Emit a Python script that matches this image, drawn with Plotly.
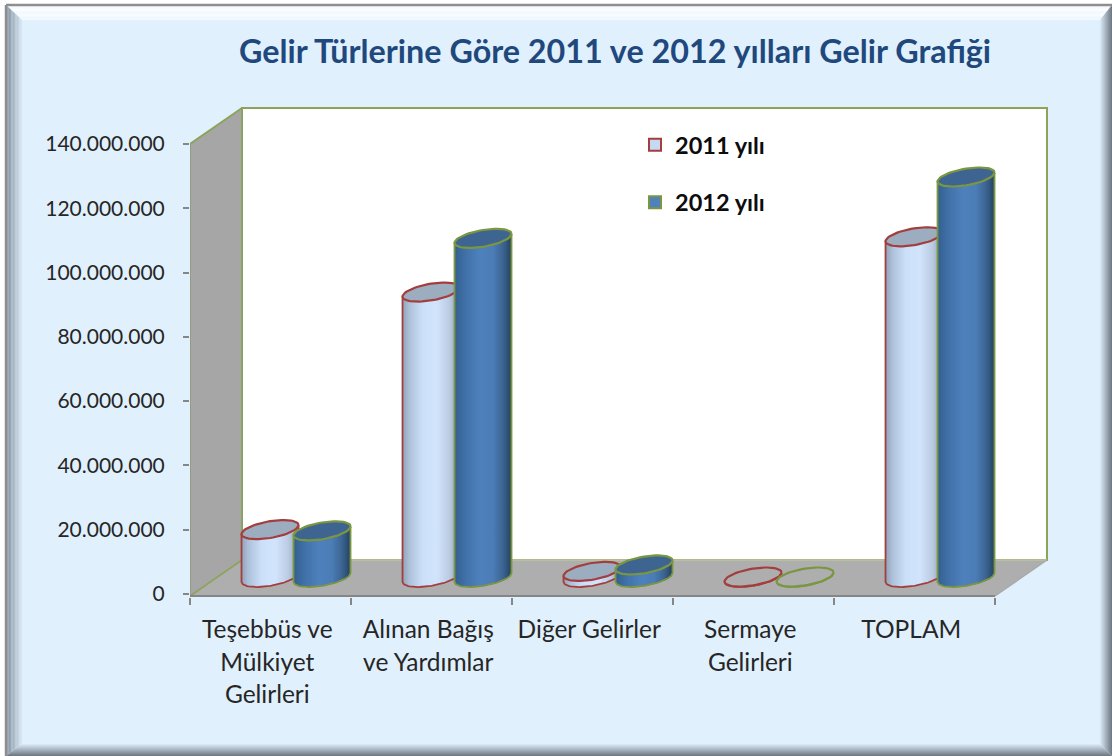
import math
import plotly.graph_objects as go

# ---------- data ----------
categories = ["Teşebbüs ve<br>Mülkiyet<br>Gelirleri", "Alınan Bağış<br>ve Yardımlar",
              "Diğer Gelirler", "Sermaye<br>Gelirleri", "TOPLAM"]
values_2011 = [14900000, 88800000, 1900000, 150000, 106000000]
values_2012 = [14500000, 105500000, 3900000, 150000, 124600000]
y_tick_values = [0, 20000000, 40000000, 60000000, 80000000, 100000000, 120000000, 140000000]
y_tick_labels = ["0", "20.000.000", "40.000.000", "60.000.000", "80.000.000",
                 "100.000.000", "120.000.000", "140.000.000"]
series_names = ["2011 yılı", "2012 yılı"]
title_text = "Gelir Türlerine Göre 2011 ve 2012 yılları Gelir Grafiği"

# ---------- geometry / style ----------
W, H = 1112, 756
L, R, T, B = 190, 1052, 105, 597       # plot area in pixels
CAT_PX = 161.0
PX_PER_VAL = 450 / 140e6
VAL_PER_PX = 1 / PX_PER_VAL
X_RANGE = [0, (R - L) / CAT_PX]
Y_RANGE = [(594 - B) * VAL_PER_PX, (594 - T) * VAL_PER_PX]

DX = 52 / CAT_PX           # depth of the 3-D box
DY = 36 * VAL_PER_PX
BASE = 16.5 * VAL_PER_PX   # floor position of the cylinders
CENTERS = [0.497, 0.820]
EA, EB, ES = 28.5 / CAT_PX, 8.4 * VAL_PER_PX, 4.5 * VAL_PER_PX

RED, GREEN = "#A23F3E", "#7A9640"
GRAD_2011 = [(-1, "#8FA2BA"), (-.75, "#B0C2DB"), (-.3, "#CCE0F9"), (.2, "#D2E5FD"), (.65, "#BACBE2"), (1, "#8A9BB2")]
GRAD_2012 = [(-1, "#34608F"), (-.6, "#4272A9"), (-.1, "#4F81BD"), (.35, "#4C7DB7"), (.7, "#3D6593"), (1, "#254360")]
FONT = "Lato, Carlito, 'Open Sans', sans-serif"


def hex2rgb(c):
    return tuple(int(c[i:i + 2], 16) for i in (1, 3, 5))


def ramp(stops, u):
    for (u0, c0), (u1, c1) in zip(stops, stops[1:]):
        if u <= u1:
            f = (u - u0) / (u1 - u0)
            a, b = hex2rgb(c0), hex2rgb(c1)
            return "rgb(%d,%d,%d)" % tuple(a[i] + (b[i] - a[i]) * f for i in range(3))
    return stops[-1][1]


def front_y(u):
    """Vertical offset of the front half of the tilted ellipse, at u in [-1, 1]."""
    return ES * u - EB * math.sqrt(max(0, 1 - u * u))


def ellipse(cx, cy, n=60):
    xs, ys = [], []
    for i in range(n + 1):
        t = 2 * math.pi * i / n
        xs.append(cx + EA * math.cos(t))
        ys.append(cy + ES * math.cos(t) + EB * math.sin(t))
    return xs, ys


fig = go.Figure()

# legend + base: real bars from the data, the shaded cylinder surface is laid over them
for name, vals, off, fill, edge in [(series_names[0], values_2011, CENTERS[0], "#C6D9F1", RED),
                                    (series_names[1], values_2012, CENTERS[1], "#4F81BD", GREEN)]:
    fig.add_trace(go.Bar(
        x=[i + off for i in range(len(vals))], y=vals, base=BASE, width=0.2, name=name,
        legendgroup=name, showlegend=True, hoverinfo="skip",
        marker=dict(color=[fill if v > 1e6 else "rgba(0,0,0,0)" for v in vals],
                    line=dict(color=edge, width=[2.5] + [0] * (len(vals) - 1)))))

NSTRIP = 32
for vals, off, grad, edge, cap in [(values_2011, CENTERS[0], GRAD_2011, RED, "#9DADC0"),
                                   (values_2012, CENTERS[1], GRAD_2012, GREEN, "#3E6592")]:
    # shaded strips: each one runs on to the right edge and the next is painted over it
    for s in range(NSTRIP):
        u0 = -1 + 2 * s / NSTRIP
        col = ramp(grad, u0 + 1 / NSTRIP)
        xs, ys = [], []
        us = [u0 + (1 - u0) * k / 16 for k in range(17)]
        for i, v in enumerate(vals):
            if v < 5e5:
                continue
            cx = i + off
            top = BASE + v
            xs += [cx + EA * u for u in us] + [cx + EA * u for u in reversed(us)] + [None]
            ys += [top + front_y(u) for u in us] + [BASE + front_y(u) for u in reversed(us)] + [None]
        fig.add_trace(go.Scatter(x=xs, y=ys, mode="lines", fill="toself", fillcolor=col,
                                 line=dict(color=col, width=0), showlegend=False,
                                 hoverinfo="skip", cliponaxis=False))
    # silhouette
    xs, ys = [], []
    for i, v in enumerate(vals):
        cx = i + off
        top = BASE + v
        if v >= 5e5:
            xs += [cx - EA]
            ys += [top + front_y(-1)]
        for k in range(41):
            u = -1 + 2 * k / 40
            xs.append(cx + EA * u)
            ys.append(BASE + front_y(u))
        if v >= 5e5:
            xs += [cx + EA]
            ys += [top + front_y(1)]
        xs.append(None)
        ys.append(None)
    fig.add_trace(go.Scatter(x=xs, y=ys, mode="lines", line=dict(color=edge, width=1.8),
                             showlegend=False, hoverinfo="skip", cliponaxis=False))
    # top caps
    xs, ys = [], []
    ex, ey = [], []
    for i, v in enumerate(vals):
        a, b = ellipse(i + off, BASE + v)
        if v >= 5e5:
            xs += a + [None]
            ys += b + [None]
        else:
            ex += a + [None]
            ey += b + [None]
    fig.add_trace(go.Scatter(x=xs, y=ys, mode="lines", fill="toself", fillcolor=cap,
                             line=dict(color=edge, width=2.2), showlegend=False,
                             hoverinfo="skip", cliponaxis=False))
    fig.add_trace(go.Scatter(x=ex, y=ey, mode="lines", line=dict(color=edge, width=2.2),
                             showlegend=False, hoverinfo="skip", cliponaxis=False))

# ---------- frame + box shapes ----------
shapes = []


def px(x):
    return (x - L) / (R - L)


def py(y):
    return (B - y) / (B - T)


def poly(points, fill, line=None, lw=0):
    path = "M" + " L".join("%.5f,%.5f" % (px(a), py(b)) for a, b in points) + " Z"
    shapes.append(dict(type="path", path=path, xref="paper", yref="paper", layer="below",
                       fillcolor=fill, line=dict(color=line or fill, width=lw)))


def data_poly(points, fill, line=None, lw=0):
    path = "M" + " L".join("%.5f,%.2f" % p for p in points) + " Z"
    shapes.append(dict(type="path", path=path, xref="x", yref="y", layer="below",
                       fillcolor=fill, line=dict(color=line or fill, width=lw)))


def data_line(p0, p1, color, lw):
    shapes.append(dict(type="line", xref="x", yref="y", layer="below", x0=p0[0], y0=p0[1],
                       x1=p1[0], y1=p1[1], line=dict(color=color, width=lw)))


# outer panel
OX0, OY0, OX1, OY1 = 6, 5, 1112, 756
IX0, IY0, IX1, IY1 = 22, 20, 1100, 744
poly([(OX0, OY0), (OX1, OY0), (OX1, OY1), (OX0, OY1)], "#E1F0FD")


def mix(c0, c1, f):
    a, b = hex2rgb(c0), hex2rgb(c1)
    return "rgb(%d,%d,%d)" % tuple(a[i] + (b[i] - a[i]) * f for i in range(3))


NB = 12
bevels = [("#FFFFFF", "#F4FAFF"), ("#7F8B99", "#D9E8F6"), ("#6C7680", "#DDECFA"), ("#6C7680", "#DDECFA")]
for k in range(NB):
    f0, f1 = k / NB, (k + 1) / NB
    x = lambda a, o, i: o + (i - o) * a
    ox0, ox0b = x(f0, OX0, IX0), x(f1, OX0, IX0)
    oy0, oy0b = x(f0, OY0, IY0), x(f1, OY0, IY0)
    ox1, ox1b = x(f0, OX1, IX1), x(f1, OX1, IX1)
    oy1, oy1b = x(f0, OY1, IY1), x(f1, OY1, IY1)
    f = (f0 + f1) / 2
    poly([(ox0, oy0), (ox1, oy0), (ox1b, oy0b), (ox0b, oy0b)], mix(*bevels[0], f))
    poly([(ox0, oy0), (ox0b, oy0b), (ox0b, oy1b), (ox0, oy1)], mix(*bevels[1], f))
    poly([(ox1, oy0), (ox1b, oy0b), (ox1b, oy1b), (ox1, oy1)], mix(*bevels[2], f))
    poly([(ox0, oy1), (ox1, oy1), (ox1b, oy1b), (ox0b, oy1b)], mix(*bevels[3], f))
shapes.append(dict(type="line", xref="paper", yref="paper", layer="below", x0=px(OX0), x1=px(OX1),
                   y0=py(OY0), y1=py(OY0), line=dict(color="#8E8E8E", width=2.5)))
shapes.append(dict(type="line", xref="paper", yref="paper", layer="below", x0=px(OX0), x1=px(OX0),
                   y0=py(OY0), y1=py(OY1), line=dict(color="#8E8E8E", width=2.5)))

# 3-D chart box, in axis units
Y0 = -2 * VAL_PER_PX
Ytop = 140e6
Xend = len(categories)
BORDER = "#8BA45A"
data_poly([(DX, DY + Y0 - 0), (Xend + DX, DY + Y0), (Xend + DX, Ytop + DY), (DX, Ytop + DY)],
          "#FFFFFF", BORDER, 2)
data_poly([(0, Y0), (DX, DY + Y0), (DX, Ytop + DY), (0, Ytop)], "#A6A6A6")
data_poly([(0, Y0), (DX, DY + Y0), (Xend + DX, DY + Y0), (Xend, Y0)], "#AEAEAE")
data_line((DX, Ytop + DY), (DX, DY + Y0), BORDER, 1.6)
data_line((0, Ytop), (DX, Ytop + DY), BORDER, 2)
data_line((0, Y0), (DX, DY + Y0), BORDER, 1.6)
data_line((0, Y0), (0, Ytop), "#8C9A78", 1.6)
data_line((DX, DY + Y0), (Xend + DX, DY + Y0), "#B9C49A", 1.5)
data_line((Xend, Y0), (Xend + DX, DY + Y0), "#A9A9A9", 1.5)
data_line((0, Y0), (Xend, Y0), "#868686", 2)

tick_size = 24.5


def tick_html(label):
    return "<br>".join('<span style="font-size:%gpx">%s</span>' % (tick_size, p) for p in label.split("<br>"))


fig.update_layout(
    width=W, height=H, margin=dict(l=L, r=W - R, t=T, b=H - B),
    paper_bgcolor="white", plot_bgcolor="rgba(0,0,0,0)",
    barmode="overlay", shapes=shapes,
    font=dict(family=FONT, color="#262626"),
    title=dict(text="<b>%s</b>" % title_text, x=615 / W, xanchor="center", y=1 - 52 / H, yanchor="middle",
               font=dict(size=32.3, color="#1F497D", family=FONT)),
    legend=dict(x=px(635), y=py(123), xanchor="left", yanchor="top", bgcolor="rgba(0,0,0,0)",
                tracegroupgap=24, itemsizing="constant", traceorder="grouped",
                font=dict(size=23.5, color="#0D0D0D", family="Lato, Carlito, sans-serif", weight="bold")),
    xaxis=dict(range=X_RANGE, tickmode="array",
               tickvals=[i + 0.48 for i in range(len(categories))],
               ticktext=[tick_html(c) for c in categories],
               ticks="", showgrid=False, zeroline=False, showline=False, tickangle=0,
               tickfont=dict(size=25, color="#262626", family=FONT), ticklabelstandoff=15,
               minor=dict(tickvals=list(range(len(categories) + 1)), ticks="outside", ticklen=7,
                          tickwidth=2, tickcolor="#868686", showgrid=False)),
    yaxis=dict(range=Y_RANGE, tickmode="array", tickvals=y_tick_values, ticktext=y_tick_labels,
               ticks="outside", ticklen=6, tickwidth=2, tickcolor="#868686", showgrid=False,
               zeroline=False, showline=False, ticklabelstandoff=14,
               tickfont=dict(size=21, color="#262626", family=FONT)),
)

fig.write_html("out.html", config=dict(displayModeBar=False),
               post_script="document.body.style.margin='0';")
